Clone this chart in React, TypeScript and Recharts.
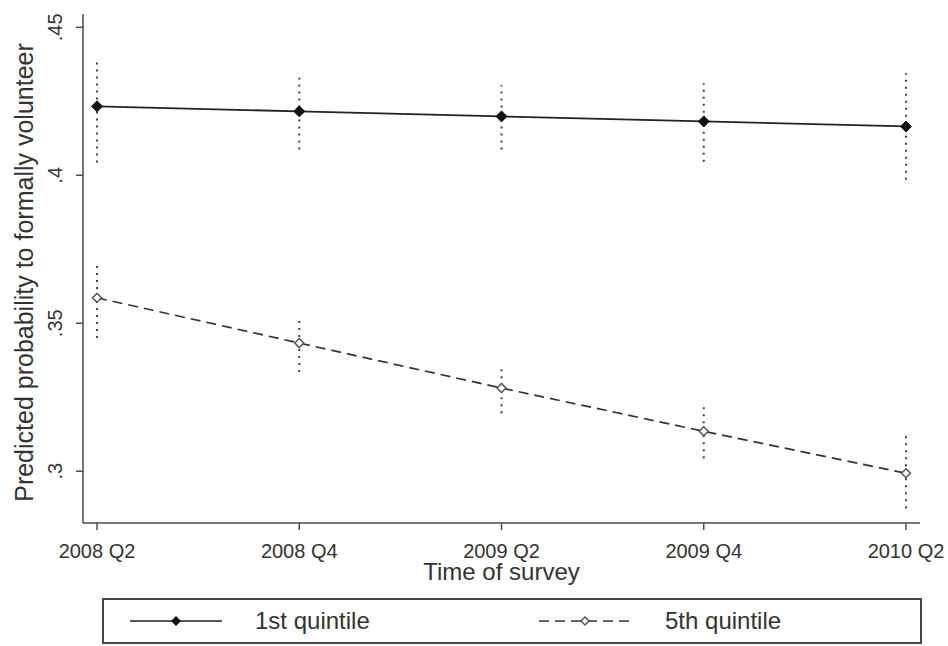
import { LineChart, Line, XAxis, YAxis, ErrorBar, Label } from 'recharts'

const categories = ['2008 Q2', '2008 Q4', '2009 Q2', '2009 Q4', '2010 Q2']

// 1st quintile: predicted probability with CI bounds
const q1 = [0.4233, 0.4216, 0.4199, 0.4182, 0.4165]
const q1Low = [0.4043, 0.4087, 0.4087, 0.4046, 0.3985]
const q1High = [0.4392, 0.433, 0.4304, 0.4311, 0.4345]

// 5th quintile
const q5 = [0.3586, 0.3433, 0.3281, 0.3135, 0.2993]
const q5Low = [0.345, 0.3335, 0.3196, 0.3044, 0.2875]
const q5High = [0.3698, 0.3518, 0.3352, 0.3224, 0.3122]

const yTicks = [0.3, 0.35, 0.4, 0.45]

const seriesNames = ['1st quintile', '5th quintile']

const data = categories.map((c, i) => ({
  time: c,
  q1: q1[i],
  q1Err: [q1[i] - q1Low[i], q1High[i] - q1[i]],
  q5: q5[i],
  q5Err: [q5[i] - q5Low[i], q5High[i] - q5[i]],
}))

const FONT = 'Arial, "Liberation Sans", sans-serif'
const INK = '#333'
const AXIS = '#4a4a4a'

function diamond(cx: number, cy: number, r: number) {
  return `M${cx},${cy - r}L${cx + r},${cy}L${cx},${cy + r}L${cx - r},${cy}Z`
}

function FilledDot(props: any) {
  const { cx, cy, index } = props
  if (cx == null || cy == null) return null
  return <path key={`f-${index}`} d={diamond(cx, cy, 5.5)} fill="#111" stroke="#111" strokeWidth={1} />
}

function HollowDot(props: any) {
  const { cx, cy, index } = props
  if (cx == null || cy == null) return null
  return <path key={`h-${index}`} d={diamond(cx, cy, 4.5)} fill="#fff" stroke="#555" strokeWidth={1.5} />
}

function YTick(props: any) {
  const { x, y, payload } = props
  const label = String(payload.value).replace(/^0/, '')
  return (
    <text
      x={x}
      y={y}
      transform={`rotate(-90, ${x}, ${y})`}
      textAnchor="middle"
      fontSize={20}
      fontFamily={FONT}
      fill={INK}
    >
      {label}
    </text>
  )
}

function LegendSample({ dashed }: { dashed: boolean }) {
  return (
    <svg width={100} height={20} style={{ display: 'block' }}>
      <line
        x1={4}
        x2={96}
        y1={10}
        y2={10}
        stroke={dashed ? '#333' : '#222'}
        strokeWidth={1.7}
        strokeDasharray={dashed ? '10 6' : undefined}
      />
      {dashed ? (
        <path d={diamond(50, 10, 4)} fill="#fff" stroke="#555" strokeWidth={1.5} />
      ) : (
        <path d={diamond(50, 10, 5)} fill="#111" />
      )}
    </svg>
  )
}

export default function App() {
  return (
    <div style={{ position: 'absolute', left: 0, top: 0, width: 948, height: 646, background: '#fff' }}>
      <LineChart
        width={948}
        height={646}
        data={data}
        margin={{ top: 14, right: 28, bottom: 63, left: 0 }}
      >
        <XAxis
          dataKey="time"
          padding={{ left: 14, right: 14 }}
          height={60}
          stroke={AXIS}
          strokeWidth={1.5}
          tickSize={7}
          tickMargin={14}
          tick={{ fontSize: 20, fontFamily: FONT, fill: INK }}
          interval={0}
        >
          <Label
            content={({ viewBox }: any) => (
              <text
                x={viewBox.x + viewBox.width / 2}
                y={viewBox.y + 57}
                textAnchor="middle"
                fontSize={24}
                fontFamily={FONT}
                fill={INK}
              >
                Time of survey
              </text>
            )}
          />
        </XAxis>
        <YAxis
          width={83}
          domain={[0.2825, 0.4545]}
          ticks={yTicks}
          stroke={AXIS}
          strokeWidth={1.5}
          tickSize={7}
          tickMargin={14}
          tick={<YTick />}
          allowDataOverflow
        >
          <Label
            content={({ viewBox }: any) => {
              const cx = 33
              const cy = viewBox.y + viewBox.height / 2 + 4
              return (
                <text
                  x={cx}
                  y={cy}
                  transform={`rotate(-90, ${cx}, ${cy})`}
                  textAnchor="middle"
                  fontSize={25}
                  fontFamily={FONT}
                  fill={INK}
                >
                  Predicted probability to formally volunteer
                </text>
              )
            }}
          />
        </YAxis>
        <Line
          dataKey="q1"
          name={seriesNames[0]}
          stroke="#222"
          strokeWidth={1.8}
          dot={FilledDot}
          activeDot={false}
          isAnimationActive={false}
        >
          <ErrorBar dataKey="q1Err" width={0} stroke="#444" strokeWidth={2} strokeDasharray="2 5" />
        </Line>
        <Line
          dataKey="q5"
          name={seriesNames[1]}
          stroke="#333"
          strokeWidth={1.7}
          strokeDasharray="10 6"
          dot={HollowDot}
          activeDot={false}
          isAnimationActive={false}
        >
          <ErrorBar dataKey="q5Err" width={0} stroke="#444" strokeWidth={2} strokeDasharray="2 5" />
        </Line>
      </LineChart>
      <div
        style={{
          position: 'absolute',
          left: 102,
          top: 598,
          width: 816,
          height: 42,
          border: '2px solid #444',
          fontFamily: FONT,
          fontSize: 24,
          color: INK,
        }}
      >
        {seriesNames.map((name, i) => (
          <div
            key={name}
            style={{
              position: 'absolute',
              left: i === 0 ? 22 : 431,
              top: 0,
              height: 42,
              display: 'flex',
              alignItems: 'center',
            }}
          >
            <LegendSample dashed={i === 1} />
            <span style={{ marginLeft: i === 0 ? 29 : 30 }}>{name}</span>
          </div>
        ))}
      </div>
    </div>
  )
}
